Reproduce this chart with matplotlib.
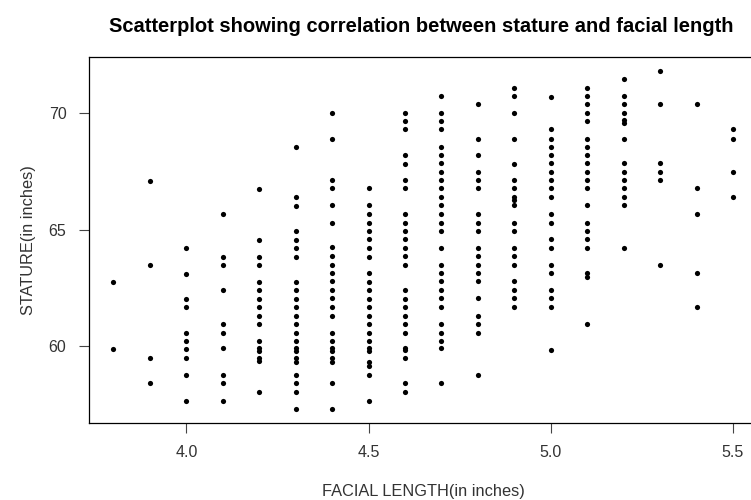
import numpy as np
import matplotlib
matplotlib.use("Agg")
import matplotlib.pyplot as plt

# stature readings (inches) for each facial length value
facial_levels = [3.8, 3.9, 4.0, 4.1, 4.2, 4.3, 4.4, 4.5, 4.6,
                 4.7, 4.8, 4.9, 5.0, 5.1, 5.2, 5.3, 5.4, 5.5]

s38 = [62.75, 59.86]
s39 = [67.11, 63.48, 59.48, 58.40]
s40 = [64.20, 63.11, 62.03, 61.66, 60.57, 60.21, 59.86, 59.48, 58.75, 57.66]
s41 = [65.66, 63.84, 63.48, 62.39, 60.93, 60.57, 59.90, 58.75, 58.40, 57.66]
s42 = [66.75, 64.57, 63.84, 63.48, 62.75, 62.39, 62.03, 61.66, 61.30, 60.93,
       60.21, 59.90, 59.80, 59.50, 59.35, 58.04]
s43 = [68.55, 66.40, 66.02, 64.93, 64.57, 64.20, 63.84, 62.75, 62.39, 62.03,
       61.66, 61.30, 60.93, 60.57, 60.21, 59.90, 59.80, 59.50, 59.30, 58.75,
       58.40, 58.04, 57.29]
s44 = [70.00, 68.91, 67.13, 66.78, 66.04, 65.30, 64.24, 63.87, 63.50, 63.15,
       62.79, 62.43, 62.05, 61.69, 61.30, 60.57, 60.21, 59.90, 59.80, 59.50,
       59.30, 58.40, 57.29]
s45 = [66.78, 66.04, 65.67, 65.30, 64.94, 64.58, 64.22, 63.84, 63.12, 62.76,
       62.40, 62.03, 61.66, 61.30, 60.93, 60.57, 60.21, 59.90, 59.80, 59.30,
       59.13, 58.75, 57.66]
s46 = [70.00, 69.67, 69.31, 68.19, 67.84, 67.13, 66.78, 65.66, 65.30, 64.94,
       64.58, 64.22, 63.87, 63.50, 62.39, 62.03, 61.66, 61.30, 60.93, 60.57,
       59.90, 59.83, 59.50, 58.40, 58.04]
s47 = [70.73, 70.03, 69.67, 69.31, 68.57, 68.21, 67.85, 67.49, 67.13, 66.78,
       66.42, 66.06, 65.67, 65.30, 64.94, 64.22, 63.50, 63.15, 62.79, 62.43,
       62.05, 61.69, 60.93, 60.57, 60.21, 59.93, 58.40]
s48 = [70.40, 68.91, 68.21, 67.49, 67.13, 66.78, 65.67, 65.30, 64.94, 64.22,
       63.87, 63.50, 63.15, 62.79, 62.05, 61.30, 60.93, 60.57, 58.75]
s49 = [71.10, 70.73, 70.03, 68.91, 67.84, 67.13, 66.80, 66.42, 66.28, 66.06,
       65.30, 64.94, 64.22, 63.87, 63.50, 62.79, 62.43, 62.05, 61.69]
s50 = [70.70, 69.31, 68.91, 68.57, 68.21, 67.85, 67.49, 67.13, 66.78, 66.42,
       65.67, 65.30, 64.58, 64.22, 63.50, 63.15, 62.43, 62.05, 61.69, 59.83]
s51 = [71.10, 70.73, 70.40, 70.03, 69.67, 68.91, 68.57, 68.21, 67.85, 67.49,
       67.13, 66.78, 66.04, 65.30, 64.94, 64.58, 64.22, 63.15, 62.98, 60.93]
s52 = [71.46, 70.73, 70.40, 70.03, 69.71, 69.60, 68.91, 67.85, 67.49, 67.13,
       66.78, 66.42, 66.04, 64.22]
s53 = [71.82, 70.40, 67.85, 67.49, 67.13, 63.48]
s54 = [70.40, 66.78, 65.66, 63.12, 61.66]
s55 = [69.31, 68.91, 67.49, 66.40]

stature_groups = [s38, s39, s40, s41, s42, s43, s44, s45, s46,
                  s47, s48, s49, s50, s51, s52, s53, s54, s55]

x_ticks = [4.0, 4.5, 5.0, 5.5]
y_ticks = [60, 65, 70]

facial = []
stature = []
for lvl, grp in zip(facial_levels, stature_groups):
    facial += [lvl] * len(grp)
    stature += grp
facial = np.array(facial)
stature = np.array(stature)

plt.rcParams['font.family'] = ['Liberation Sans', 'DejaVu Sans']

fig = plt.figure(figsize=(7.51, 5.0), dpi=100)
ax = fig.add_axes([0.1181, 0.1546, 0.8909, 0.7306])

ax.scatter(facial, stature, s=14, color='black', linewidths=0)

# R style 4% padding
xr = max(facial) - min(facial)
yr = max(stature) - min(stature)
ax.set_xlim(min(facial) - 0.04 * xr, max(facial) + 0.04 * xr)
ax.set_ylim(min(stature) - 0.04 * yr, max(stature) + 0.04 * yr)

ax.set_xticks(x_ticks)
ax.set_xticklabels([f'{v:.1f}' for v in x_ticks])
ax.set_yticks(y_ticks)
ax.set_yticklabels([str(v) for v in y_ticks])
ax.tick_params(direction='out', length=7, width=0.8, color='#444444',
               labelsize=11.5, labelcolor='#333333', pad=9)

for sp in ax.spines.values():
    sp.set_linewidth(0.9)
    sp.set_color('black')

ax.set_xlabel('FACIAL LENGTH(in inches)', fontsize=11.8, color='#333333', labelpad=17)
ax.set_ylabel('STATURE(in inches)', fontsize=11.8, color='#333333', labelpad=9)
fig.suptitle('Scatterplot showing correlation between stature and facial length',
             fontsize=14.5, fontweight='bold', x=0.561, y=0.965)

fig.savefig('out.png', dpi=100)
